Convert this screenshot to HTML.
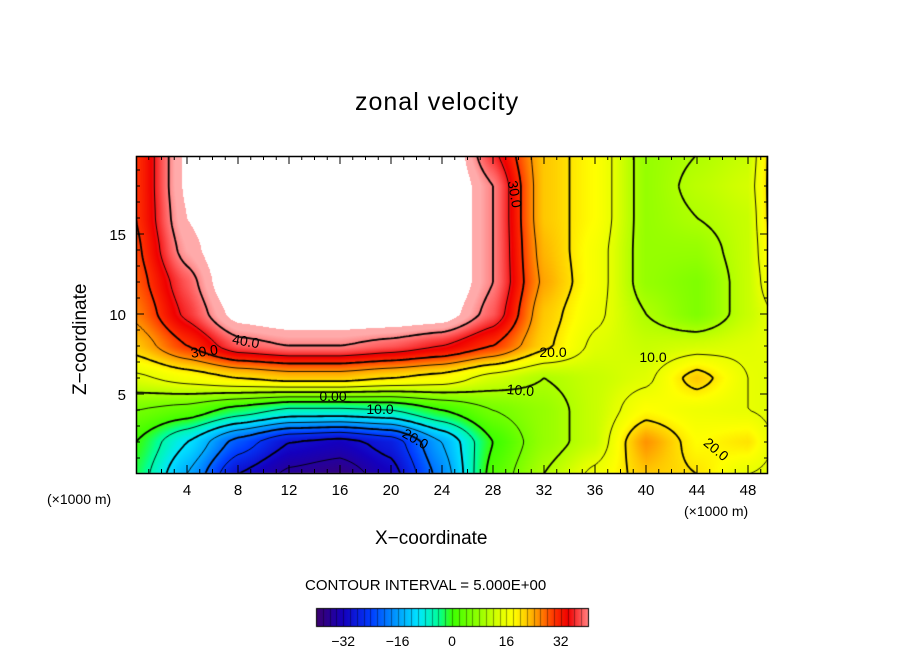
<!DOCTYPE html>
<html><head><meta charset="utf-8"><style>
body{margin:0;background:#fff;width:904px;height:654px;overflow:hidden;position:relative;font-family:"Liberation Sans",sans-serif}
.t{position:absolute;color:#000;white-space:nowrap}
canvas{position:absolute}
</style></head><body>
<div class="t" style="left:355px;top:88px;font-size:25px;letter-spacing:1px">zonal velocity</div>
<canvas id="c" width="904" height="654" style="left:0;top:0"></canvas>
<svg id="s" width="904" height="654" style="position:absolute;left:0;top:0"></svg>
<script>
const xs=[0,4,8,12,16,20,24,28,32,36,40,44,48,50];
const zs=[0,2,4,6,8,10,12,14,16,18,20];
const vals=[
[-2,-15,-30,-36,-38,-32,-18,2,10,16,22,20,15,14],
[0,-10,-22,-30,-32,-28,-15,0,8,12,25,18,20,15],
[5,3,-2,-6,-6,-5,0,5,8,12,18,16,15,14],
[14,17,20,22,22,20,18,13,10,12,14,22,15,14],
[22,30,38,40,40,38,35,30,21,14,12,13,14,15],
[26,36,46,48,48,48,47,38,22,16,10,6,12,15],
[28,38,50,50,50,50,50,40,24,17,8,6,12,18],
[29,42,50,50,50,50,50,40,23,17,8,8,12,20],
[30,44,50,50,50,50,50,40,22,18,8,10,12,22],
[30,45,50,50,50,50,50,40,22,18,8,11,13,22],
[30,45,50,50,50,50,50,36,22,18,8,10,12,22]];
const xTicks=[4,8,12,16,20,24,28,32,36,40,44,48];
const zTicks=[5,10,15];
const cbTicks=[-32,-16,0,16,32];
const levels=[-35,-30,-25,-20,-15,-10,-5,0,5,10,15,20,25,30,35,40];
const PX0=136,PX1=768,PY0=156,PY1=473;
const sx=x=>PX0+x*12.75, sz=z=>474-z*16;
const ix=p=>(p-PX0)/12.75, iz=p=>(474-p)/16;
function f(x,z){
  x=Math.max(0,Math.min(50,x));z=Math.max(0,Math.min(20,z));
  let i=0;while(i<xs.length-2&&x>xs[i+1])i++;
  let j=0;while(j<zs.length-2&&z>zs[j+1])j++;
  const tx=(x-xs[i])/(xs[i+1]-xs[i]),tz=(z-zs[j])/(zs[j+1]-zs[j]);
  const a=vals[j][i],b=vals[j][i+1],c=vals[j+1][i],d=vals[j+1][i+1];
  const sx2=tx*tx*(3-2*tx)*0.4+tx*0.6, sz2=tz*tz*(3-2*tz)*0.4+tz*0.6;
  return (a*(1-sx2)+b*sx2)*(1-sz2)+(c*(1-sx2)+d*sx2)*sz2;
}
const stops=[[-40,[60,0,110]],[-32,[20,0,190]],[-24,[0,60,255]],[-16,[0,160,255]],[-10,[0,230,255]],[-4,[0,255,150]],[0,[60,255,0]],[8,[150,255,0]],[14,[225,255,0]],[18,[255,255,0]],[22,[255,200,0]],[26,[255,130,0]],[30,[255,50,0]],[34,[240,0,0]],[38,[255,90,90]],[42,[255,170,170]]];
function col(v){
  if(v>=44)return [255,255,255];
  if(v<=stops[0][0])return stops[0][1];
  for(let k=0;k<stops.length-1;k++){const[a,ca]=stops[k],[b,cb]=stops[k+1];
    if(v<=b){const t=(v-a)/(b-a);return ca.map((q,m)=>Math.round(q+(cb[m]-q)*t));}}
  return stops[stops.length-1][1];
}
const cv=document.getElementById('c'),ctx=cv.getContext('2d');
const img=ctx.createImageData(PX1-PX0,PY1-PY0);
for(let py=PY0;py<PY1;py++)for(let px=PX0;px<PX1;px++){
  const c=col(f(ix(px+0.5),iz(py+0.5)));const o=((py-PY0)*(PX1-PX0)+(px-PX0))*4;
  img.data[o]=c[0];img.data[o+1]=c[1];img.data[o+2]=c[2];img.data[o+3]=255;}
ctx.putImageData(img,PX0,PY0);
const st=3,nx=Math.ceil((PX1-PX0)/st),ny=Math.ceil((PY1-PY0)/st);
const G=[];for(let j=0;j<=ny;j++){G[j]=[];for(let i=0;i<=nx;i++)G[j][i]=f(ix(PX0+i*st),iz(PY0+j*st));}
ctx.save();ctx.beginPath();ctx.rect(PX0,PY0,PX1-PX0,PY1-PY0);ctx.clip();
levels.forEach(L=>{
  ctx.beginPath();
  for(let j=0;j<ny;j++)for(let i=0;i<nx;i++){
    const v=[G[j][i],G[j][i+1],G[j+1][i+1],G[j+1][i]];
    const p=[[0,0],[1,0],[1,1],[0,1]];const pts=[];
    for(let e=0;e<4;e++){const a=v[e],b=v[(e+1)%4];
      if((a<L)!==(b<L)){const t=(L-a)/(b-a);const pa=p[e],pb=p[(e+1)%4];
        pts.push([PX0+(i+pa[0]+(pb[0]-pa[0])*t)*st,PY0+(j+pa[1]+(pb[1]-pa[1])*t)*st]);}}
    if(pts.length>=2){ctx.moveTo(pts[0][0],pts[0][1]);ctx.lineTo(pts[1][0],pts[1][1]);}
    if(pts.length==4){ctx.moveTo(pts[2][0],pts[2][1]);ctx.lineTo(pts[3][0],pts[3][1]);}
  }
  ctx.lineWidth=(L%10===0)?1.8:0.9;ctx.strokeStyle='#000';
  ctx.setLineDash(L<0?[5,3]:[]);ctx.stroke();
});
ctx.restore();ctx.setLineDash([]);
const CB0=316,CB1=588;
for(let px=CB0;px<CB1;px++){const v=-40+(px-CB0)/(CB1-CB0)*80;const c=col(Math.min(v,43));
  ctx.fillStyle=`rgb(${c})`;ctx.fillRect(px,608,1,18);}
ctx.strokeStyle='#000';ctx.lineWidth=1;ctx.strokeRect(CB0+.5,608.5,CB1-CB0,18);
for(let v=-40;v<=40;v+=2){const px=Math.round(CB0+(v+40)/80*(CB1-CB0))+.5;ctx.beginPath();ctx.moveTo(px,608);ctx.lineTo(px,626);ctx.lineWidth=0.4;ctx.stroke();}
const S=document.getElementById('s'),NS='http://www.w3.org/2000/svg';
function el(t,a,txt){const e=document.createElementNS(NS,t);for(const k in a)e.setAttribute(k,a[k]);if(txt!==undefined)e.textContent=txt;S.appendChild(e);return e;}
const fr=el('rect',{x:PX0+.5,y:PY0+.5,width:PX1-PX0-1,height:PY1-PY0,fill:'none',stroke:'#000','stroke-width':1.5});


for(let x=1;x<50;x++){const X=sx(x),len=x%4===0?8:4;el('line',{x1:X,y1:PY1,x2:X,y2:PY1-len,stroke:'#000'});el('line',{x1:X,y1:PY0,x2:X,y2:PY0+len,stroke:'#000'});}
for(let z=1;z<20;z++){const Y=sz(z),len=z%5===0?8:4;el('line',{x1:PX0,y1:Y,x2:PX0+len,y2:Y,stroke:'#000'});el('line',{x1:PX1,y1:Y,x2:PX1-len,y2:Y,stroke:'#000'});}
xTicks.forEach(x=>{const t=el('text',{x:sx(x),y:495,'font-size':15,'text-anchor':'middle'},String(x));

});
zTicks.forEach(z=>{const t=el('text',{x:126,y:sz(z)+6,'font-size':15,'text-anchor':'end'},String(z));

});
cbTicks.forEach(v=>{const t=el('text',{x:CB0+(v+40)/80*(CB1-CB0),y:646,'font-size':14,'text-anchor':'middle'},(v<0?'\u2212':'')+Math.abs(v));

});
const lab=[[205,356,'30.0',-8],[245,346,'40.0',10],[510,195,'30.0',80],[553,357,'20.0',0],[653,362,'10.0',0],[520,395,'10.0',5],[333,401,'0.00',0],[380,414,'10.0',0],[413,443,'20.0',30],[713,453,'20.0',40]];
lab.forEach(l=>{const t=el('text',{x:l[0],y:l[1],'font-size':14,'text-anchor':'middle',transform:`rotate(${l[3]} ${l[0]} ${l[1]})`},l[2]);

});
</script>
<div class="t" style="left:47px;top:491px;font-size:14px">(×1000 m)</div>
<div class="t" style="left:684px;top:503px;font-size:14px">(×1000 m)</div>
<div class="t" style="left:375px;top:528px;font-size:19px">X−coordinate</div>
<div class="t" style="left:70px;top:395px;font-size:19px;transform:rotate(-90deg);transform-origin:0 0">Z−coordinate</div>
<div class="t" style="left:305px;top:577px;font-size:15px">CONTOUR INTERVAL = 5.000E+00</div>
</body></html>
